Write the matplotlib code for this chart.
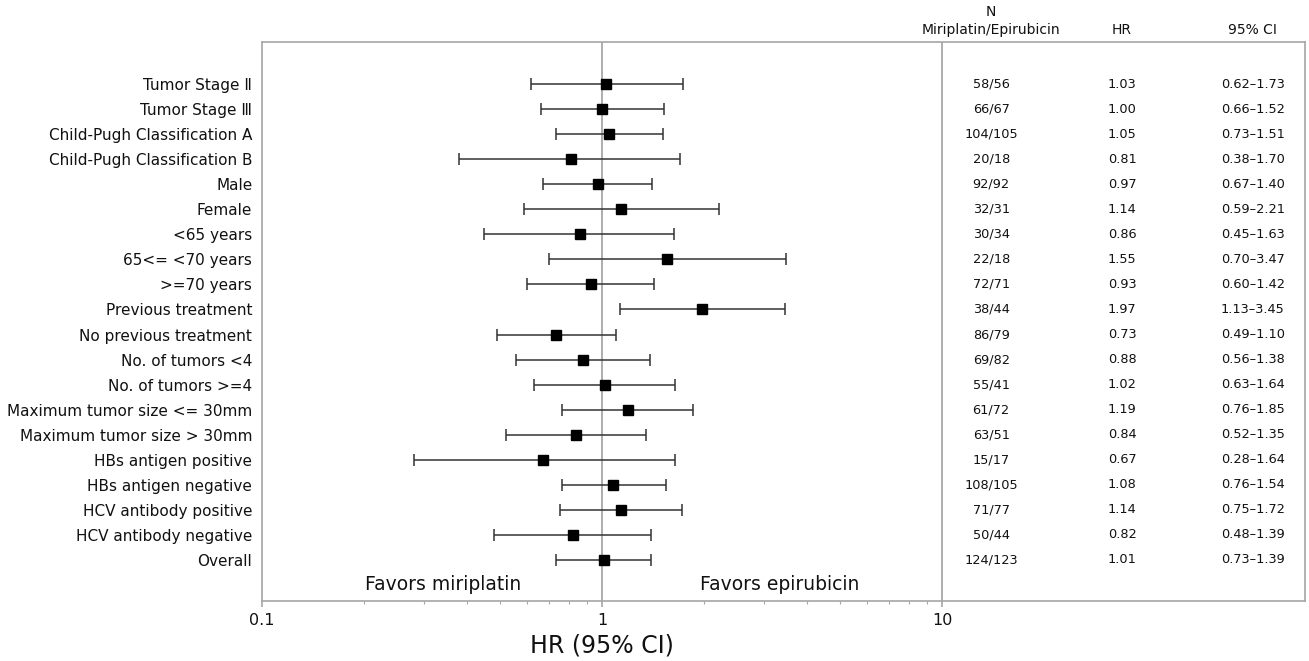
import matplotlib
matplotlib.use('Agg')
import matplotlib.pyplot as plt
import matplotlib.ticker as mticker
import matplotlib.transforms as mtransforms
import numpy as np

plt.rcParams['font.family'] = ['DejaVu Sans', 'Noto Sans CJK JP']

# サブグループのデータ
subgroups = ['Tumor Stage Ⅱ', 'Tumor Stage Ⅲ', 'Child-Pugh Classification A',
             'Child-Pugh Classification B', 'Male', 'Female', '<65 years',
             '65<= <70 years', '>=70 years', 'Previous treatment',
             'No previous treatment', 'No. of tumors <4', 'No. of tumors >=4',
             'Maximum tumor size <= 30mm', 'Maximum tumor size > 30mm',
             'HBs antigen positive', 'HBs antigen negative',
             'HCV antibody positive', 'HCV antibody negative', 'Overall']
hr = [1.03, 1.00, 1.05, 0.81, 0.97, 1.14, 0.86, 1.55, 0.93, 1.97,
      0.73, 0.88, 1.02, 1.19, 0.84, 0.67, 1.08, 1.14, 0.82, 1.01]
ci_low = [0.62, 0.66, 0.73, 0.38, 0.67, 0.59, 0.45, 0.70, 0.60, 1.13,
          0.49, 0.56, 0.63, 0.76, 0.52, 0.28, 0.76, 0.75, 0.48, 0.73]
ci_high = [1.73, 1.52, 1.51, 1.70, 1.40, 2.21, 1.63, 3.47, 1.42, 3.45,
           1.10, 1.38, 1.64, 1.85, 1.35, 1.64, 1.54, 1.72, 1.39, 1.39]
n_miri = [58, 66, 104, 20, 92, 32, 30, 22, 72, 38, 86, 69, 55, 61, 63, 15, 108, 71, 50, 124]
n_epi = [56, 67, 105, 18, 92, 31, 34, 18, 71, 44, 79, 82, 41, 72, 51, 17, 105, 77, 44, 123]

hr = np.array(hr)
lo = hr - np.array(ci_low)
hi = np.array(ci_high) - hr
y = np.arange(len(subgroups))

fig = plt.figure(figsize=(13.09, 6.61), dpi=100)
ax = fig.add_axes([0.2002, 0.0908, 0.7968, 0.8457])

frame_col = '#a6a6a6'
txt_col = '#111111'

ax.axvline(1, color='#a0a0a0', lw=1.2, zorder=1)
ax.axvline(10, color='#a0a0a0', lw=1.2, zorder=1)

ax.errorbar(hr, y, xerr=[lo, hi], fmt='s', color='black', ecolor='#333333',
            elinewidth=1.1, capsize=4, capthick=1.1, markersize=6.8, zorder=3)

ax.set_xscale('log')
ax.set_xlim(0.1, 116.8)
ax.set_ylim(20.64, -1.68)

ax.set_yticks(y)
ax.set_yticklabels(subgroups, fontsize=11, color=txt_col)
ax.tick_params(axis='y', length=0, pad=7)

ax.xaxis.set_major_locator(mticker.FixedLocator([0.1, 1, 10]))
ax.xaxis.set_major_formatter(mticker.FixedFormatter(['0.1', '1', '10']))
minors = [m * d for d in (0.1, 1) for m in range(2, 10)]
ax.xaxis.set_minor_locator(mticker.FixedLocator(minors))
ax.xaxis.set_minor_formatter(mticker.NullFormatter())
ax.tick_params(axis='x', which='major', length=4.5, width=1.2, color=frame_col,
               labelsize=11.5, labelcolor=txt_col, pad=4)
ax.tick_params(axis='x', which='minor', length=2.5, width=0.8, color=frame_col)

# x軸ラベルは HR=1 の位置に中央揃え
ax.set_xlabel('HR (95% CI)', fontsize=17, color=txt_col)
ax.xaxis.set_label_coords(1, -0.079,
                          transform=mtransforms.blended_transform_factory(ax.transData, ax.transAxes))
ax.xaxis.label.set_va('center')

for s in ax.spines.values():
    s.set_color(frame_col)
    s.set_linewidth(1.2)

# 表の列
tf = ax.get_yaxis_transform()
x_n, x_hr, x_ci = 0.699, 0.8245, 0.950
for i in range(len(subgroups)):
    ax.text(x_n, i, f'{n_miri[i]}/{n_epi[i]}', transform=tf,
            ha='center', va='center', fontsize=9.3, color=txt_col)
    ax.text(x_hr, i, f'{hr[i]:.2f}', transform=tf, ha='center', va='center',
            fontsize=9.3, color=txt_col)
    ax.text(x_ci, i, f'{ci_low[i]:.2f}–{ci_high[i]:.2f}', transform=tf,
            ha='center', va='center', fontsize=9.3, color=txt_col)

# ヘッダー
ax.text(x_n, 1.054, 'N', transform=ax.transAxes, ha='center', va='center',
        fontsize=10, color=txt_col)
ax.text(x_n, 1.021, 'Miriplatin/Epirubicin', transform=ax.transAxes,
        ha='center', va='center', fontsize=10, color=txt_col)
ax.text(x_hr, 1.021, 'HR', transform=ax.transAxes, ha='center', va='center',
        fontsize=10, color=txt_col)
ax.text(x_ci, 1.021, '95% CI', transform=ax.transAxes, ha='center', va='center',
        fontsize=10, color=txt_col)

ax.text(0.34, 20, 'Favors miriplatin', ha='center', va='center', fontsize=13.5, color=txt_col)
ax.text(3.34, 20, 'Favors epirubicin', ha='center', va='center', fontsize=13.5, color=txt_col)

fig.savefig('out.png', dpi=100)
